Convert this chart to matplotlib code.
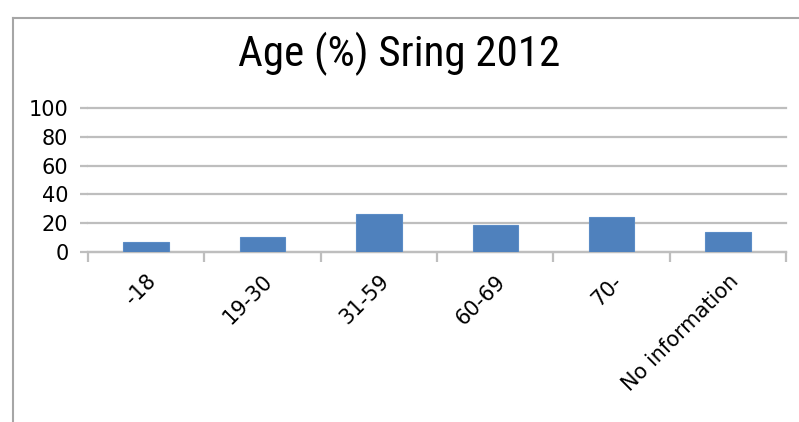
import matplotlib
matplotlib.use("Agg")
import matplotlib.pyplot as plt
from matplotlib.lines import Line2D

# Chart data
age_groups = ["-18", "19-30", "31-59", "60-69", "70-", "No information"]
share_pct = [7, 10, 26.5, 18.5, 24, 13.5]
y_ticks = [0, 20, 40, 60, 80, 100]
title = "Age (%) Sring 2012"

bar_color = "#4F81BD"
grid_color = "#BEBEBE"

plt.rcParams["font.family"] = ["DejaVu Sans"]

fig = plt.figure(figsize=(7.99, 4.22), dpi=100)
ax = fig.add_axes([0.110, 0.4035, 0.874, 0.340])

x = range(len(age_groups))
ax.bar(x, share_pct, width=0.39, color=bar_color, edgecolor="#5B8CC6",
       linewidth=0.8, zorder=3)

ax.set_xlim(-0.5, len(age_groups) - 0.5)
ax.set_ylim(0, 100)
ax.set_yticks(y_ticks)
ax.set_yticklabels([str(v) for v in y_ticks], fontsize=15)
ax.yaxis.grid(True, color=grid_color, linewidth=1.6, zorder=0)
for gl in ax.get_ygridlines():
    gl.set_clip_on(False)
ax.tick_params(axis="y", length=6, color=grid_color, width=1.6, pad=8)

# category labels in the middle, tick marks at the boundaries
ax.set_xticks(list(x))
ax.set_xticklabels(age_groups, fontsize=15, rotation=45, ha="right",
                   rotation_mode="anchor")
ax.tick_params(axis="x", which="major", length=0, pad=14)
ax.set_xticks([i - 0.5 for i in range(len(age_groups) + 1)], minor=True)
ax.tick_params(axis="x", which="minor", length=7, color=grid_color, width=1.6)

for side in ["left", "right", "top"]:
    ax.spines[side].set_visible(False)
ax.spines["bottom"].set_color(grid_color)
ax.spines["bottom"].set_linewidth(1.6)

fig.text(0.5, 0.872, title, ha="center", va="center", fontsize=31,
         family=["Roboto Condensed", "Roboto", "DejaVu Sans"],
         fontstretch="condensed")

# outer chart frame (only top and left edges show in the crop)
fig.add_artist(Line2D([0.016, 0.016], [0.0, 0.957], color="#A6A6A6",
                      linewidth=1.5, transform=fig.transFigure))
fig.add_artist(Line2D([0.016, 1.0], [0.957, 0.957], color="#A6A6A6",
                      linewidth=1.5, transform=fig.transFigure))

fig.savefig("out.png", dpi=100)
